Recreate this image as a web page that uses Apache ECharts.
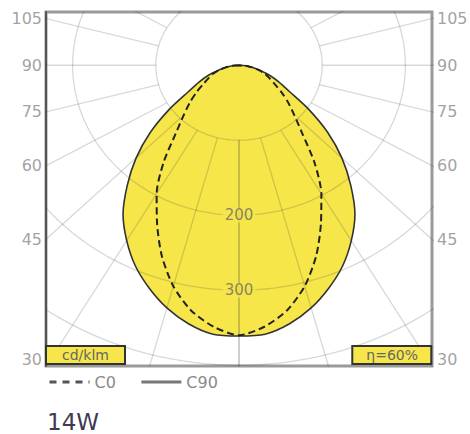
<!DOCTYPE html>
<html><head><meta charset="utf-8">
<script src="https://cdn.jsdelivr.net/npm/echarts@6/dist/echarts.min.js"></script>
<style>html,body{margin:0;padding:0;background:#fff}#c{width:470px;height:434px}</style>
</head><body><div id="c"></div>
<script>
// ---- data ----
const gammaDeg  = [0, 5, 10, 15, 20, 25, 30, 35, 40, 45, 50, 55, 60, 65, 70, 75, 80, 85, 90];
const c0Values  = [360, 350, 332, 305, 271, 233, 198, 158, 118, 94, 77, 62, 49, 40, 33, 25, 16, 8, 0];
const c90Values = [361, 360, 350, 335, 316, 295, 270, 243, 209, 175, 139, 102, 70, 53, 39, 25, 16, 8, 0];
const ringValues = [100, 200, 300, 400, 500];
const ringLabelValues = [200, 300];
const spokeAngles = [0, 15, 30, 45, 60, 75, 90, 105, 120, 135, 150, 165, 180];
const angleTickLabels = [105, 90, 75, 60, 45, 30];
const legendNames = ['C0', 'C90'];
const unitText = 'cd/klm';
const effText = 'η=60%';
const powerText = '14W';

// ---- view ----
const X_MAX = 232, Y_MIN = -401, Y_MAX = 71;
const FILL = '#f6e64a';
const GRID_COL = 'rgba(60,60,60,0.2)';
const FONT = 'DejaVu Sans';
const rad = d => d * Math.PI / 180;

function curvePoints(vals) {
  const pts = [];
  for (let i = gammaDeg.length - 1; i >= 0; i--) {
    const a = rad(gammaDeg[i]);
    pts.push([-vals[i] * Math.sin(a), -vals[i] * Math.cos(a)]);
  }
  for (let i = 1; i < gammaDeg.length; i++) {
    const a = rad(gammaDeg[i]);
    pts.push([vals[i] * Math.sin(a), -vals[i] * Math.cos(a)]);
  }
  return pts;
}

const gridSeries = [];
ringValues.forEach(r => {
  const pts = [];
  for (let d = 0; d <= 360; d += 2) pts.push([r * Math.sin(rad(d)), -r * Math.cos(rad(d))]);
  gridSeries.push({type: 'line', data: pts, symbol: 'none', silent: true, z: 2,
    lineStyle: {color: GRID_COL, width: 1.3}, clip: true, animation: false});
});
spokeAngles.forEach(a => {
  [-1, 1].forEach(s => {
    const inner = ringValues[0], outer = 700;
    gridSeries.push({type: 'line', symbol: 'none', silent: true, z: 2, clip: true,
      data: [[s * inner * Math.sin(rad(a)), -inner * Math.cos(rad(a))],
             [s * outer * Math.sin(rad(a)), -outer * Math.cos(rad(a))]],
      lineStyle: {color: GRID_COL, width: 1.3}, animation: false});
  });
});

function tickData(side) {
  return angleTickLabels.map(t => {
    let y = -X_MAX * Math.cos(rad(t)) / Math.sin(rad(t));
    const clamped = y < Y_MIN;
    if (clamped) y = Y_MIN;
    const item = {value: [side * X_MAX, y], name: String(t)};
    if (clamped) item.label = {offset: [0, -7]};
    return item;
  });
}

const option = {
  animation: false,
  grid: {left: 46, right: 38, top: 12, bottom: 68, show: true, borderColor: '#9a9a9a', borderWidth: 3},
  xAxis: {type: 'value', min: -X_MAX, max: X_MAX, show: true,
    axisLine: {show: false}, axisTick: {show: false}, axisLabel: {show: false}, splitLine: {show: false}},
  yAxis: {type: 'value', min: Y_MIN, max: Y_MAX,
    axisLine: {show: true, onZero: false, lineStyle: {color: '#555', width: 2}},
    axisTick: {show: false}, axisLabel: {show: false}, splitLine: {show: false}},
  legend: {
    left: 43, top: 369, itemWidth: 40, itemHeight: 12, itemGap: 24,
    textStyle: {fontFamily: FONT, fontSize: 16, color: '#8a8a8a'},
    itemStyle: {opacity: 0},
    data: [
      {name: legendNames[0], itemStyle: {opacity: 0}, lineStyle: {color: '#555', width: 3, type: [7, 6]}},
      {name: legendNames[1], itemStyle: {opacity: 0}, lineStyle: {color: '#777', width: 3, type: 'solid'}}
    ]
  },
  title: [
    {text: unitText, left: 46, top: 346, padding: [2, 16], backgroundColor: FILL,
      borderColor: '#333', borderWidth: 2,
      textStyle: {fontFamily: FONT, fontSize: 14, fontWeight: 'normal', color: '#666'}},
    {text: effText, right: 38, top: 346, padding: [2, 14], backgroundColor: FILL,
      borderColor: '#333', borderWidth: 2,
      textStyle: {fontFamily: FONT, fontSize: 14, fontWeight: 'normal', color: '#666'}},
    {text: powerText, left: 47, top: 410, padding: 0,
      textStyle: {fontFamily: FONT, fontSize: 23, fontWeight: 'normal', color: '#3d3a52'}}
  ],
  series: [
    {name: legendNames[1], type: 'line', data: curvePoints(c90Values), symbol: 'none', smooth: 0.25,
      z: 1, lineStyle: {color: '#333', width: 1.6}, itemStyle: {color: '#555'},
      areaStyle: {color: FILL, opacity: 1}},
    ...gridSeries,
    {name: legendNames[0], type: 'line', data: curvePoints(c0Values), symbol: 'none', smooth: 0.25,
      z: 3, lineStyle: {color: '#222', width: 2, type: [7, 4]}, itemStyle: {color: '#333'}},
    {type: 'scatter', symbolSize: 0, silent: true, z: 4, clip: false,
      data: ringLabelValues.map(r => ({value: [0, -r], name: String(r)})),
      label: {show: true, position: 'inside', formatter: '{b}', backgroundColor: FILL, padding: [0, 2],
        fontFamily: FONT, fontSize: 15, color: '#6a6a6a'}},
    {type: 'scatter', symbolSize: 0, silent: true, z: 4, clip: false, data: tickData(-1),
      label: {show: true, position: 'left', distance: 4, formatter: '{b}',
        fontFamily: FONT, fontSize: 16, color: '#8a8a8a'}},
    {type: 'scatter', symbolSize: 0, silent: true, z: 4, clip: false, data: tickData(1),
      label: {show: true, position: 'right', distance: 5, formatter: '{b}',
        fontFamily: FONT, fontSize: 16, color: '#8a8a8a'}}
  ]
};
const chart = echarts.init(document.getElementById('c'), null, {renderer: 'svg'});
chart.setOption(option);
</script>
</body></html>
